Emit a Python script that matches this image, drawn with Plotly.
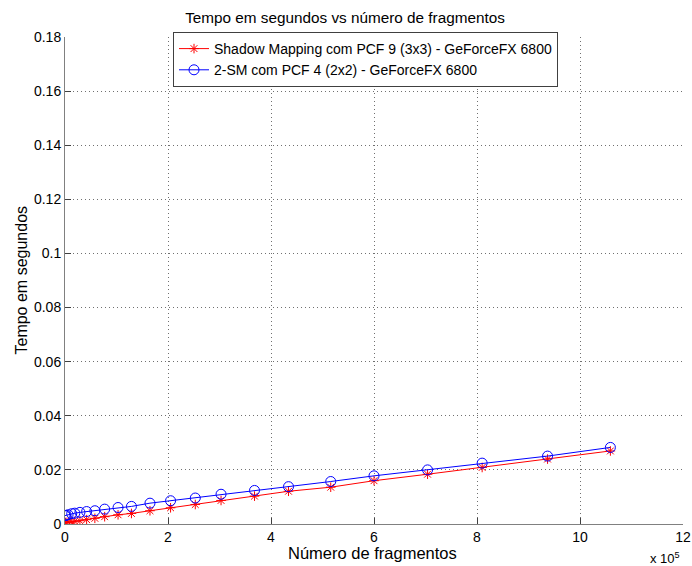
import plotly.graph_objects as go

# x values in units of 1e5 fragments
fragments = [0.0, 0.02, 0.06, 0.13, 0.19, 0.29, 0.42, 0.58, 0.77, 1.03, 1.29, 1.65,
             2.05, 2.53, 3.03, 3.68, 4.34, 5.16, 6.00, 7.04, 8.10, 9.37, 10.59]
sm_pcf9 = [0.0005, 0.0006, 0.0007, 0.0008, 0.0010, 0.0012, 0.0016, 0.0021, 0.0027,
           0.0034, 0.0039, 0.0049, 0.0060, 0.0072, 0.0087, 0.0103, 0.0121, 0.0136,
           0.0160, 0.0184, 0.0209, 0.0240, 0.0270]
sm2_pcf4 = [0.0031, 0.0032, 0.0034, 0.0038, 0.0040, 0.0043, 0.0046, 0.0049, 0.0055,
            0.0061, 0.0065, 0.0077, 0.0086, 0.0096, 0.0110, 0.0124, 0.0138, 0.0157,
            0.0178, 0.0200, 0.0225, 0.0251, 0.0283]
name_red = "Shadow Mapping com PCF 9 (3x3) - GeForceFX 6800"
name_blue = "2-SM com PCF 4 (2x2) - GeForceFX 6800"
x_ticks = [0, 2, 4, 6, 8, 10, 12]
y_ticks = [0, 0.02, 0.04, 0.06, 0.08, 0.1, 0.12, 0.14, 0.16, 0.18]

FONT = "Liberation Sans, Arial, sans-serif"

W, H = 692, 566
L, T, R, B = 65, 37, 9, 42
PW, PH = W - L - R, H - T - B

fig = go.Figure()
fig.add_trace(go.Scatter(
    x=fragments, y=sm_pcf9, mode="lines+markers", name=name_red,
    line=dict(color="#ff0000", width=1),
    marker=dict(symbol="asterisk-open", size=8, color="#ff0000", line=dict(width=1, color="#ff0000")),
))
fig.add_trace(go.Scatter(
    x=fragments, y=sm2_pcf4, mode="lines+markers", name=name_blue,
    line=dict(color="#0000ff", width=1),
    marker=dict(symbol="circle-open", size=10, color="#0000ff", line=dict(width=1, color="#0000ff")),
))

axis_common = dict(
    showgrid=True, gridcolor="#707070", griddash="1px,3px", gridwidth=1,
    zeroline=False, showline=True, linecolor="#808080", linewidth=1,
    ticks="inside", ticklen=6, tickcolor="#404040", tickwidth=1,
    tickfont=dict(family=FONT, size=14, color="black"),
    mirror=False,
)

fig.update_layout(
    width=W, height=H,
    paper_bgcolor="white", plot_bgcolor="white",
    margin=dict(l=L, r=R, t=T, b=B, autoexpand=False),
    font=dict(family=FONT, size=14, color="black"),
    title=dict(text="Tempo em segundos vs número de fragmentos", x=345 / W, xanchor="center",
               y=1 - 18 / H, yanchor="middle", font=dict(size=15.3, family=FONT)),
    xaxis=dict(range=[0, 12], tickvals=x_ticks, ticktext=[str(v) for v in x_ticks], **axis_common),
    yaxis=dict(range=[0, 0.18], tickvals=y_ticks, ticktext=["0"] + [f"{v:g}" for v in y_ticks[1:]], **axis_common),
    showlegend=True,
    legend=dict(x=(173 - L) / PW, y=1 + 5 / PH, xanchor="left", yanchor="top",
                bgcolor="white", bordercolor="#404040", borderwidth=1,
                font=dict(family=FONT, size=14), tracegroupgap=0, itemwidth=30),
)

fig.add_annotation(text="Número de fragmentos", xref="paper", yref="paper",
                   x=(372 - L) / PW, y=-29 / PH, xanchor="center", yanchor="middle",
                   showarrow=False, font=dict(size=16.5, family=FONT))
fig.add_annotation(text="Tempo em segundos", xref="paper", yref="paper",
                   x=-44 / PW, y=0.5, xanchor="center", yanchor="middle", textangle=-90,
                   showarrow=False, font=dict(size=16, family=FONT))
fig.add_annotation(text="x 10<sup>5</sup>", xref="paper", yref="paper",
                   x=(682 - L) / PW, y=-34 / PH, xanchor="right", yanchor="middle",
                   showarrow=False, font=dict(size=13, family=FONT))

fig.write_html("out.html",
               config={"displayModeBar": False},
               post_script="document.body.style.margin='0px';document.body.style.overflow='hidden';")
